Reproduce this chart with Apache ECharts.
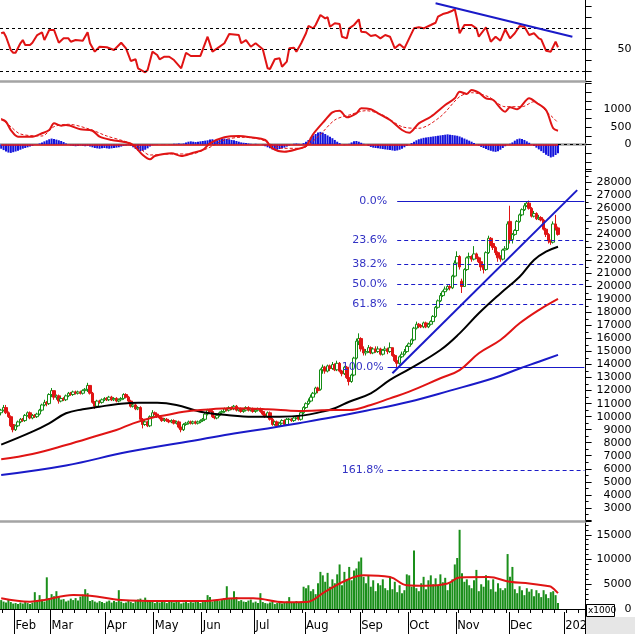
<!DOCTYPE html>
<html><head><meta charset="utf-8">
<script src="https://cdn.jsdelivr.net/npm/echarts/dist/echarts.min.js"></script>
<style>html,body{margin:0;padding:0;background:#fff;overflow:hidden}#c{width:635px;height:634px}</style>
</head><body><div id="c"></div>
<script>
// ---------- DATA ----------
const opens = [
10300,10500,10700,10300,10000,9400,9000,9300,9600,9800,
9700,10100,10300,9900,10100,10000,10200,10500,10900,11100,
11000,11700,12000,11500,11600,11200,11400,11300,11600,11800,
11700,11900,11800,11900,11800,12000,12100,12400,11800,11100,
10800,11200,11100,11300,11400,11300,11500,11300,11400,11200,
11300,11400,11700,11500,11200,10800,10900,10600,10700,9800,
9400,9600,9300,10000,10300,10200,10000,9900,9700,9800,
9700,9600,9700,9500,9600,9200,9000,9400,9500,9600,
9500,9600,9500,9600,9700,9800,10200,10500,10400,10000,
9900,10100,10300,10400,10600,10500,10700,10600,10800,10500,
10600,10400,10500,10700,10500,10600,10400,10500,10600,10400,
10200,10000,10300,9800,9400,9600,9300,9500,9700,9400,
9800,9800,9700,9900,10000,9800,10300,10700,11000,11200,
11500,11800,12200,12100,13600,13800,13500,13900,13700,14000,
13600,14100,13500,13300,13800,13000,12700,13200,14500,15800,
16000,15200,14900,15000,15300,14900,15200,15000,15200,14800,
15100,15200,15000,15300,14700,14300,14100,14600,14800,15000,
15400,15600,15900,16800,17100,17000,16900,17200,16900,17100,
17300,17700,18400,18900,19300,19600,19800,20000,19900,20800,
21800,22300,20400,20000,21300,22200,22300,22100,22500,22200,
21900,21500,21300,22600,23700,23300,23000,22600,22200,22100,
22800,22900,25000,23600,24000,24300,25000,25500,25900,26200,
26400,26000,25400,25600,25200,25300,25100,24400,24000,23500,
23400,24800,24500];
const closes = [
10500,10700,10300,10000,9300,9000,9300,9600,9800,9700,
10100,10300,9900,10100,10000,10200,10500,10900,11100,11000,
11700,12000,11500,11600,11200,11400,11300,11600,11800,11700,
11900,11800,11900,11800,12000,12100,12400,11800,11100,10800,
11200,11100,11300,11400,11300,11500,11300,11400,11200,11300,
11400,11700,11500,11200,10800,10900,10600,10700,9800,9400,
9600,9300,10000,10300,10200,10000,9900,9700,9800,9700,
9600,9700,9500,9600,9200,9000,9400,9500,9600,9500,
9600,9500,9600,9700,9800,10200,10500,10400,10000,9900,
10100,10300,10400,10600,10500,10700,10600,10800,10500,10600,
10400,10500,10700,10500,10600,10400,10500,10600,10400,10200,
10000,10300,9800,9400,9600,9300,9500,9700,9400,9800,
9800,9700,9900,10000,9800,10300,10700,11000,11200,11500,
11800,12200,12000,13600,13800,13500,13900,13700,14000,13600,
14100,13500,13300,13800,13000,12700,13200,14500,15800,16000,
15200,14900,15000,15300,14900,15200,15000,15200,14800,15100,
15200,15000,15300,14700,14300,14100,14600,14800,15000,15400,
15600,15900,16800,17100,17000,16900,17200,16900,17100,17300,
17700,18400,18900,19300,19600,19800,20000,19900,20800,21800,
22300,21500,20000,21300,22200,22300,22100,22500,22200,21900,
21500,21300,22600,23700,23300,23000,22600,22200,22100,22800,
22900,24800,23600,24000,24300,25000,25500,25900,26200,26400,
26000,25400,25600,25200,25300,25100,24400,24000,23500,23400,
24800,24500,24000];
const lows = [
10100,10400,10200,9900,9200,8800,8900,9200,9500,9600,
9600,10000,9800,9800,9900,9900,10100,10400,10800,10800,
10900,11500,11300,11300,11000,11100,11200,11200,11500,11600,
11600,11700,11700,11700,11700,11900,11900,11700,11000,10600,
10700,11000,11000,11200,11200,11200,11200,11200,11100,11100,
11200,11300,11400,11100,10700,10700,10500,10500,9700,9100,
9300,9200,9200,9900,10100,9900,9800,9600,9600,9600,
9500,9500,9400,9400,9100,8800,8900,9300,9400,9400,
9400,9400,9400,9500,9600,9700,10100,10300,9900,9800,
9800,10000,10200,10300,10400,10400,10500,10500,10400,10400,
10300,10300,10400,10400,10400,10300,10300,10400,10300,10100,
9900,9900,9700,9300,9300,9200,9200,9400,9300,9300,
9600,9600,9600,9800,9700,9700,10200,10600,10900,11100,
11400,11700,11800,12000,13300,13300,13400,13500,13600,13500,
13500,13400,13100,13200,12900,12400,12600,13100,14400,15500,
15000,14700,14700,14900,14800,14800,14900,14900,14700,14700,
14900,14800,14900,14600,14200,13800,14000,14500,14700,14900,
15300,15500,15800,16700,16800,16800,16800,16800,16800,17000,
17200,17600,18300,18800,19200,19500,19700,19700,19800,20700,
21700,21300,19500,20000,21200,22000,21900,22000,22100,21800,
21200,21000,21200,22500,23100,22800,22400,21900,21900,22000,
22700,22800,23300,23300,23900,24200,24900,25400,25800,26100,
25900,25300,25300,25100,25100,25000,24300,23800,23300,23200,
23300,24300,23900];
const highs = [
10600,10900,10900,10400,10100,9700,9400,9700,9900,9900,
10200,10400,10400,10200,10200,10300,10600,11000,11300,11200,
11800,12200,12000,11700,11700,11500,11500,11700,11900,11900,
12000,12000,12000,12000,12100,12200,12600,12400,11900,11200,
11300,11300,11400,11500,11500,11600,11600,11500,11500,11400,
11500,11800,11800,11600,11300,11000,11000,10800,10800,9900,
9800,9700,10100,10500,10400,10300,10100,10000,9900,9900,
9800,9800,9800,9700,9700,9300,9500,9600,9700,9700,
9700,9700,9700,9800,9900,10300,10600,10600,10500,10100,
10200,10400,10500,10700,10700,10800,10800,10900,10900,10700,
10700,10600,10800,10800,10700,10700,10600,10700,10700,10500,
10300,10400,10400,9900,9700,9700,9600,9800,9800,9900,
9900,9900,10000,10100,10100,10400,10800,11100,11400,11700,
11900,12300,12300,13700,14000,13900,14000,14000,14200,14100,
14300,14200,13600,13900,13900,13100,13300,14600,16000,16400,
16100,15400,15200,15500,15400,15300,15400,15400,15300,15200,
15400,15300,15700,15300,14800,14400,14700,15000,15200,15500,
15700,16000,16900,17300,17200,17100,17300,17300,17200,17400,
17800,18500,19000,19500,19700,20000,20100,20100,20900,22000,
22700,22400,20600,21400,22300,22600,22400,23100,22600,22300,
22000,21700,22700,23900,23800,23500,23100,22700,22400,22900,
23100,25000,26200,24100,24400,25100,25600,26000,26400,26500,
26600,26100,25800,25700,25500,25400,25200,24500,24100,23600,
25000,25500,24600];
const volumes = [
1800,1500,1300,1900,1400,1100,1200,1000,1300,1100,
1400,1200,1000,1300,3400,1500,2800,1900,1500,6400,
2200,3000,2600,3600,2400,1900,2000,1500,1700,2100,
1800,2200,1700,2500,2900,4000,3200,1600,1800,1500,
1300,1600,1400,1200,1500,1700,1300,1600,1400,3800,
1500,1200,1300,1700,1400,1200,1600,1900,2100,1500,
2300,1800,1400,1600,1200,1500,1300,1700,1400,1200,
1600,1800,1300,1500,1400,1100,1300,1500,1200,1400,
1300,1500,1700,1200,1400,1600,2800,2400,1500,1700,
1900,1600,1800,2200,4600,2000,2200,3600,2400,1600,
1800,1500,1400,1700,1900,1300,1500,1200,3200,1400,
1200,1100,1300,1500,1000,1200,1400,1100,1300,1500,
2400,1400,1200,1600,1300,1500,4500,4200,4800,3600,
4000,3000,5200,7500,6800,5500,7300,4500,6000,5200,
7000,9000,4800,7500,6000,8500,5800,7800,8200,9600,
10400,6500,5200,6800,4500,5800,3600,5200,4800,6000,
4200,3800,6500,4000,5500,3400,4800,3200,3800,7000,
6800,4500,11800,4200,3600,5200,6500,4000,5800,6800,
5000,6200,4800,7000,5400,6300,3800,5200,6000,9000,
10300,16000,7200,5500,6000,4800,4200,5800,7900,3600,
5000,4500,6800,5800,4000,6000,3500,5200,4200,3800,
4200,11100,6500,8500,4000,3200,4600,3800,2800,4200,
3500,4000,2600,3800,3200,2400,3800,3000,2200,3400,
3600,2800,1200];
const macdHist = [
-120,-160,-200,-230,-240,-220,-200,-180,-150,-120,-100,-80,-60,-40,
-10,10,30,
60,90,120,150,170,160,140,120,100,70,
30,-10,-30,-40,-50,-40,-30,-40,-50,-40,-60,-80,
-100,-110,-120,-110,-100,-110,-120,-110,-100,-90,-80,-60,
-40,-30,-20,-40,-80,
-130,-170,-190,-180,-150,-110,-60,-20,
-10,10,0,-10,10,0,-10,
10,20,20,30,20,30,
60,80,90,80,70,80,90,100,110,
120,140,150,130,120,140,160,170,160,150,130,120,100,80,60,50,40,
30,20,10,20,10,0,-20,-50,-80,
-110,-140,-160,-150,-130,-110,-90,-60,-30,0,
20,30,20,10,40,
80,130,200,260,300,340,360,340,300,260,220,180,130,80,40,
0,-20,-10,20,
60,90,100,80,50,20,0,
-40,-70,-90,-100,-110,-120,-130,-140,-150,-160,-170,-180,-170,-150,-120,-80,-40,0,40,80,
120,150,170,190,200,210,220,230,240,250,260,270,280,290,280,270,260,250,230,200,170,140,110,80,40,10,
-30,-70,-100,-130,-160,-180,-200,-210,-190,-150,-100,-50,
-10,20,60,110,150,
170,160,130,90,50,10,
-40,-90,-140,-190,-240,-290,-330,-370,-350,-300,-250];
// [day index, value] readings of the smooth / indicator lines
const ma50 = [[0,7850],[13,8850],[20,9490],[27,10260],[34,10570],[41,10770],[48,10950],[57,11070],[65,11070],[73,10900],[83,10380],[94,10130],[105,10000],[116,10000],[126,10100],[133,10350],[139,10650],[145,11150],[154,11790],[162,12820],[170,13650],[183,15120],[191,16400],[199,17940],[208,19470],[216,20750],[222,22030],[227,22670],[232,23050]];
const ma100 = [[0,6730],[13,7130],[27,7820],[41,8590],[48,8980],[55,9490],[62,9880],[69,10130],[76,10380],[83,10510],[97,10640],[111,10570],[124,10440],[139,10510],[145,10510],[154,10900],[162,11410],[170,11920],[183,12950],[191,13580],[199,14870],[208,15890],[216,17170],[224,18190],[232,19050]];
const ma200 = [[0,5520],[27,6250],[53,7300],[83,8250],[97,8700],[111,9100],[124,9500],[138,9950],[152,10450],[170,11150],[187,12000],[205,12950],[216,13700],[224,14220],[232,14750]];
const volMa = [[0,2160],[12,1480],[18,1820],[30,2830],[37,2700],[50,1820],[67,1600],[84,1600],[98,2160],[105,2160],[118,1350],[127,1400],[135,3500],[144,5860],[151,6800],[162,6450],[169,4800],[177,4700],[186,5150],[191,6350],[203,6450],[212,5500],[220,5150],[227,4700],[229,4500],[232,3200]];
const rsi = [[0,64.9],[1,65.8],[2,61.7],[4,49.3],[5,46.8],[6,46.8],[8,55.6],[9,58.6],[10,54],[12,54],[13,56.1],[15,63.3],[17,65.8],[18,58.6],[20,68],[22,68],[24,56.1],[26,60.2],[28,60.2],[29,57],[31,58.6],[34,58],[36,65.8],[37,55.6],[39,47.8],[41,52.4],[44,51.9],[47,49.3],[50,56.1],[52,50.9],[54,39.1],[56,40.7],[57,32.3],[60,28.6],[61,30.8],[63,47.8],[65,44.7],[66,40.7],[68,43.1],[70,43.1],[72,40],[75,32.3],[77,46.8],[79,43.8],[83,43.8],[86,61.7],[88,47.8],[90,50.9],[93,55.6],[95,64.2],[99,63.3],[100,55.6],[102,58.6],[104,52.4],[106,55.6],[109,50],[111,32.3],[112,31.7],[114,40.7],[116,41.6],[117,33.8],[119,38.5],[120,50.9],[122,51.5],[123,47.8],[125,55.6],[127,64.9],[128,71.7],[130,69.5],[131,72.6],[133,81.9],[135,78.8],[136,79.8],[137,71],[139,74.2],[141,73.5],[142,61.7],[144,60.2],[145,69.5],[147,72.6],[149,77.9],[150,66.4],[152,65.8],[154,62.4],[156,63.3],[158,60.2],[160,63.3],[162,61.7],[164,50.9],[166,54.6],[168,50.9],[170,60.2],[172,69.5],[174,70.5],[176,69.5],[179,72.6],[181,74.7],[182,80.3],[184,82.8],[186,84],[188,85.9],[189,87.2],[190,77.2],[191,64.9],[193,72.6],[196,72.6],[198,69.5],[199,61.7],[202,70.5],[204,57],[206,61.7],[208,58],[210,68.6],[212,60.2],[214,64.9],[216,71.7],[218,71],[220,63.3],[222,64.9],[224,60.2],[225,59.3],[227,48.7],[229,47.8],[231,57],[232,51.9]];
const macdLine = [[0,720],[2,650],[4,414],[7,223],[13,223],[17,320],[20,414],[22,605],[25,537],[27,557],[33,434],[38,394],[41,223],[46,129],[52,63],[55,-14],[59,-300],[62,-423],[64,-329],[71,-251],[75,-329],[80,-234],[84,-157],[87,34],[93,206],[99,243],[104,206],[110,129],[113,-109],[118,-206],[123,-137],[127,-43],[130,300],[135,700],[138,920],[141,966],[144,777],[148,891],[150,1034],[154,1006],[157,891],[162,700],[167,414],[170,337],[174,605],[179,794],[185,1129],[189,1320],[191,1509],[194,1443],[196,1557],[199,1480],[202,1320],[205,1271],[210,937],[212,1063],[215,1006],[220,1320],[223,1194],[227,986],[230,463],[232,394]];
const macdSignal = [[0,749],[4,509],[8,300],[17,243],[22,509],[28,577],[37,434],[44,243],[52,80],[57,-63],[62,-300],[71,-271],[79,-271],[86,-109],[93,129],[100,206],[108,149],[117,-109],[125,-109],[132,223],[139,700],[145,843],[152,966],[159,843],[167,509],[174,463],[183,794],[191,1366],[196,1480],[203,1366],[210,1080],[217,1080],[222,1223],[228,891],[232,623]];
const fibHigh = 26550, fibLow = 13800;
const fibRatios = [0, 0.236, 0.382, 0.5, 0.618, 1, 1.618];
const fibLabels = ['0.0%', '23.6%', '38.2%', '50.0%', '61.8%', '100.0%', '161.8%'];
const priceTrend = [[163, 13330], [240, 27400]];
const rsiTrend = [[181, 92.8], [238, 61.7]];
const rsiLevels = [30, 50, 70];
const monthLabels = ['Feb','Mar','Apr','May','Jun','Jul','Aug','Sep','Oct','Nov','Dec','202'];
const monthStarts = [6, 21, 44, 64, 84, 106, 127, 150, 170, 190, 212, 235];
const dayCount = 244;

// ---------- CHART ----------
const categories = Array.from({length: dayCount}, (_, i) => String(i));
const candles = closes.map((c, i) => [opens[i], c, lows[i], highs[i]]);
const lastIdx = closes.length - 1;
const FONT = 'DejaVu Sans';
const BLUE = '#1a1ac8', RED = '#e01414', GREEN = '#148c14';
const W = 585.6;

function sepAxis(g) {
  return { type: 'category', gridIndex: g, position: 'bottom', data: categories, boundaryGap: true,
    axisLine: { show: true, lineStyle: { color: '#a4a4a4', width: 2.5 } },
    axisTick: { show: false }, axisLabel: { show: false }, splitLine: { show: false } };
}
function yAx(g, min, max, interval, fmt, minor) {
  return { type: 'value', gridIndex: g, position: 'right', min, max, interval,
    axisLine: { show: true, lineStyle: { color: '#000', width: 1 } },
    axisTick: { show: true, inside: false, length: 6, lineStyle: { color: '#000' } },
    minorTick: minor ? { show: true, splitNumber: minor, length: 3, lineStyle: { color: '#000' } } : { show: false },
    splitLine: { show: false }, minorSplitLine: { show: false },
    axisLabel: { show: true, align: 'right', margin: 46, fontFamily: FONT, fontSize: 11, color: '#000', formatter: fmt } };
}

const fibMarks = fibRatios.map((r, k) => {
  const v = fibHigh - r * (fibHigh - fibLow);
  const start = r >= 1 ? 161 : 165;
  const solid = (r === 0 || r === 1);
  return [
    { coord: [start, v], lineStyle: { color: BLUE, width: 1, type: solid ? 'solid' : [4, 3] },
      label: { show: true, position: 'start', formatter: fibLabels[k], color: '#3333c4', fontFamily: FONT, fontSize: 11, distance: r >= 1 ? 4 : 10 } },
    { coord: [dayCount - 1, v] }
  ];
});

const option = {
  animation: false,
  backgroundColor: '#fff',
  grid: [
    { left: 0, width: W, top: -4.45, height: 86, containLabel: false, outerBoundsMode: 'none' },
    { left: 0, width: W, top: 83.25, height: 87.5, containLabel: false, outerBoundsMode: 'none' },
    { left: 0, width: W, top: 169.3, height: 351.54, containLabel: false, outerBoundsMode: 'none' },
    { left: 0, width: W, top: 519.9, height: 89.1, containLabel: false, outerBoundsMode: 'none' }
  ],
  xAxis: [
    sepAxis(0), sepAxis(1), sepAxis(2),
    { type: 'category', gridIndex: 3, position: 'bottom', data: categories, boundaryGap: true, offset: 3,
      axisLine: { show: true, lineStyle: { color: '#000', width: 1 } },
      axisTick: { show: true, inside: false, length: 4, interval: (i) => i % 5 === 1, lineStyle: { color: '#000' } },
      axisLabel: { show: false }, splitLine: { show: false } },
    { type: 'category', gridIndex: 3, position: 'bottom', data: categories, boundaryGap: true, offset: 3,
      axisLine: { show: false },
      axisTick: { show: true, inside: false, length: 24, interval: (i) => monthStarts.indexOf(i) >= 0, lineStyle: { color: '#000' } },
      axisLabel: { show: true, interval: (i) => monthStarts.indexOf(i) >= 0, align: 'left', margin: 8,
        fontFamily: FONT, fontSize: 11.5, color: '#000',
        formatter: (v, i) => { const k = monthStarts.indexOf(Number(v)); return k >= 0 ? monthLabels[k] : ''; } },
      splitLine: { show: false } }
  ],
  yAxis: [
    yAx(0, 20, 100, 10, (v) => v === 50 ? '50' : '', 0),
    yAx(1, -750, 1750, 250, (v) => [0, 500, 1000].indexOf(v) >= 0 ? String(v) : '', 0),
    yAx(2, 2000, 29000, 1000, (v) => (v >= 3000 && v <= 28000) ? String(v) : '', 2),
    yAx(3, 0, 18000, 5000, (v) => [0, 5000, 10000, 15000].indexOf(v) >= 0 ? String(v) : '', 5)
  ],
  series: [
    { type: 'line', name: 'RSI', xAxisIndex: 0, yAxisIndex: 0, data: rsi, symbol: 'none',
      lineStyle: { color: RED, width: 2 }, z: 3,
      markLine: { silent: true, symbol: ['none', 'none'], label: { show: false },
        data: rsiLevels.map((lv) => ({ yAxis: lv, lineStyle: { color: '#000', width: 1, type: [3, 3] } }))
          .concat([[{ coord: rsiTrend[0], lineStyle: { color: BLUE, width: 2, type: 'solid' } }, { coord: rsiTrend[1] }]]) } },
    { type: 'bar', name: 'MACD hist', xAxisIndex: 1, yAxisIndex: 1, data: macdHist, barWidth: 2,
      itemStyle: { color: '#1414dc' }, z: 2,
      markLine: { silent: true, symbol: ['none', 'none'], label: { show: false },
        data: [
          [{ coord: [0, 0], lineStyle: { color: RED, width: 1.5, type: 'solid' } }, { coord: [lastIdx, 0] }],
          [{ coord: [lastIdx, 0], lineStyle: { color: '#000', width: 1, type: [3, 3] } }, { coord: [dayCount - 1, 0] }]
        ] } },
    { type: 'line', name: 'MACD', xAxisIndex: 1, yAxisIndex: 1, data: macdLine, symbol: 'none', smooth: 0.3,
      lineStyle: { color: RED, width: 2 }, z: 4 },
    { type: 'line', name: 'Signal', xAxisIndex: 1, yAxisIndex: 1, data: macdSignal, symbol: 'none', smooth: 0.3,
      lineStyle: { color: RED, width: 1, type: [3, 2] }, z: 4 },
    { type: 'candlestick', name: 'Price', xAxisIndex: 2, yAxisIndex: 2, data: candles, barWidth: 3,
      itemStyle: { color: '#ffffff', color0: RED, borderColor: GREEN, borderColor0: RED, borderWidth: 1 }, z: 2,
      markLine: { silent: true, symbol: ['none', 'none'],
        data: fibMarks.concat([[{ coord: priceTrend[0], lineStyle: { color: BLUE, width: 2, type: 'solid' }, label: { show: false } }, { coord: priceTrend[1] }]]) } },
    { type: 'line', name: 'MA50', xAxisIndex: 2, yAxisIndex: 2, data: ma50, symbol: 'none', smooth: 0.4,
      lineStyle: { color: '#000', width: 2 }, z: 5 },
    { type: 'line', name: 'MA100', xAxisIndex: 2, yAxisIndex: 2, data: ma100, symbol: 'none', smooth: 0.4,
      lineStyle: { color: RED, width: 2 }, z: 5 },
    { type: 'line', name: 'MA200', xAxisIndex: 2, yAxisIndex: 2, data: ma200, symbol: 'none', smooth: 0.4,
      lineStyle: { color: BLUE, width: 2 }, z: 5 },
    { type: 'bar', name: 'Volume', xAxisIndex: 3, yAxisIndex: 3, data: volumes, barWidth: 2,
      itemStyle: { color: '#1a8f1a' }, z: 2 },
    { type: 'line', name: 'Vol MA', xAxisIndex: 3, yAxisIndex: 3, data: volMa, symbol: 'none', smooth: 0.4,
      lineStyle: { color: RED, width: 2 }, z: 4 }
  ],
  graphic: [
    { type: 'rect', shape: { x: 586, y: 617, width: 49, height: 17 }, style: { fill: '#e6e6e6' }, z: 10 },
    { type: 'rect', shape: { x: 586.5, y: 604.5, width: 28, height: 12 }, style: { fill: '#fff', stroke: '#000', lineWidth: 1 }, z: 10 },
    { type: 'text', x: 588, y: 606, style: { text: 'x1000', font: '9px "DejaVu Sans"', fill: '#000' }, z: 11 }
  ]
};
const chart = echarts.init(document.getElementById('c'), null, { renderer: 'canvas' });
chart.setOption(option);
</script></body></html>
